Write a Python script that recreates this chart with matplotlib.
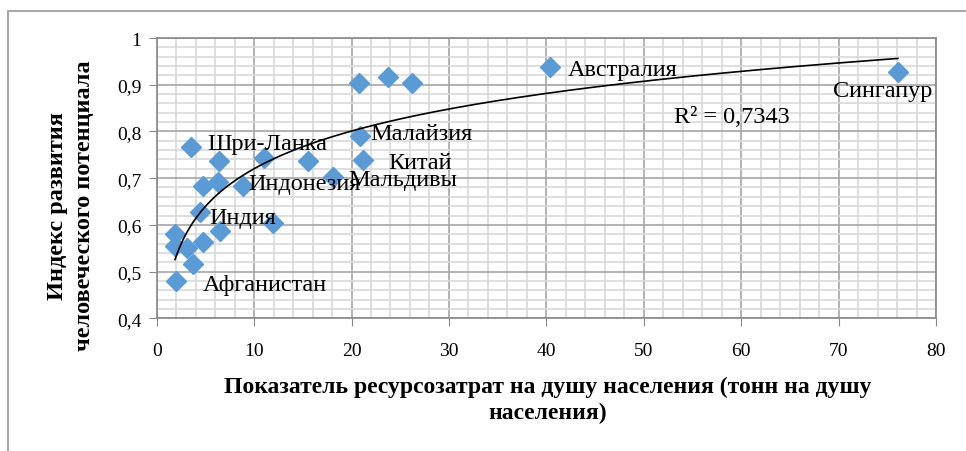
import numpy as np
import matplotlib
matplotlib.use("Agg")
import matplotlib.pyplot as plt
from matplotlib.ticker import MultipleLocator, FuncFormatter
from matplotlib.patches import Rectangle

plt.rcParams['font.family'] = ['Liberation Serif', 'DejaVu Serif']

# ресурсозатраты на душу населения (т) и индекс развития человеческого потенциала
x_vals = [1.98, 1.88, 1.88, 3.14, 3.76, 4.78, 6.50, 4.45, 4.78, 6.32, 3.49, 6.40,
          8.89, 11.05, 11.91, 15.53, 18.07, 20.80, 23.78, 26.18, 20.87, 21.21,
          40.38, 76.08]
y_vals = [0.479, 0.580, 0.555, 0.550, 0.516, 0.563, 0.587, 0.628, 0.683, 0.691,
          0.766, 0.736, 0.684, 0.743, 0.604, 0.736, 0.702, 0.904, 0.916, 0.903,
          0.791, 0.739, 0.939, 0.927]

# подписи стран: индекс точки, текст, смещение (пиксели), выравнивание
labels = [
    (0, "Афганистан", (27, -3), "left"),
    (7, "Индия", (9, -6), "left"),
    (10, "Шри-Ланка", (17, 4), "left"),
    (12, "Индонезия", (5, 2), "left"),
    (16, "Мальдивы", (16, -2), "left"),
    (20, "Малайзия", (10, 2), "left"),
    (21, "Китай", (25, -3), "left"),
    (22, "Австралия", (18, -3), "left"),
    (23, "Сингапур", (-15, -18), "center"),
]
r2_text = "R² = 0,7343"

fig = plt.figure(figsize=(9.66, 4.52), dpi=100)
ax = fig.add_axes([0.1622, 0.2936, 0.8068, 0.6201])

# рамка диаграммы
fig.patches.append(Rectangle((8 / 966, -0.1), 1.2, 1 - 12 / 452 + 0.1, transform=fig.transFigure,
                             fill=False, edgecolor="#a0a0a0", linewidth=1.3))

ax.set_xlim(0, 80)
ax.set_ylim(0.4, 1.0)
ax.xaxis.set_major_locator(MultipleLocator(10))
ax.xaxis.set_minor_locator(MultipleLocator(2))
ax.yaxis.set_major_locator(MultipleLocator(0.1))
ax.yaxis.set_minor_locator(MultipleLocator(0.02))
ax.yaxis.set_major_formatter(FuncFormatter(lambda v, p: ("%g" % round(v, 1)).replace(".", ",")))

ax.grid(which="minor", color="#d9d9d9", linewidth=1.2)
ax.grid(which="major", color="#a6a6a6", linewidth=1.2)
ax.set_axisbelow(True)
for s in ax.spines.values():
    s.set_color("#888888")
    s.set_linewidth(1.2)
ax.tick_params(which="major", direction="out", length=6, color="#888888", labelsize=14)
ax.tick_params(axis="x", pad=11)
ax.tick_params(axis="y", pad=5)
ax.tick_params(which="minor", length=0)

ax.plot(x_vals, y_vals, linestyle="none", marker="D", markersize=10.5,
        color="#5b9bd5", zorder=3)

# логарифмическая линия тренда
xa = np.array(x_vals)
b, a = np.polyfit(np.log(xa), np.array(y_vals), 1)
xt = np.linspace(xa.min(), xa.max(), 300)
ax.plot(xt, a + b * np.log(xt), color="black", linewidth=1.2, zorder=4)

for i, txt, off, ha in labels:
    ax.annotate(txt, (x_vals[i], y_vals[i]), xytext=off, textcoords="offset pixels",
                ha=ha, va="center", fontsize=17.5, zorder=5)

ax.text(53.1, 0.833, r2_text, ha="left", va="center", fontsize=17.5)

fig.text(548 / 966, 1 - 400 / 452,
         "Показатель ресурсозатрат на душу населения (тонн на душу\nнаселения)",
         ha="center", va="center", multialignment="center",
         fontsize=17, fontweight="bold", linespacing=1.3)
fig.text(71 / 966, 1 - 206 / 452, "Индекс развития\nчеловеческого потенциала",
         rotation=90, ha="center", va="center", multialignment="center",
         fontsize=17.5, fontweight="bold", linespacing=1.35)

fig.savefig("out.png", dpi=100)
